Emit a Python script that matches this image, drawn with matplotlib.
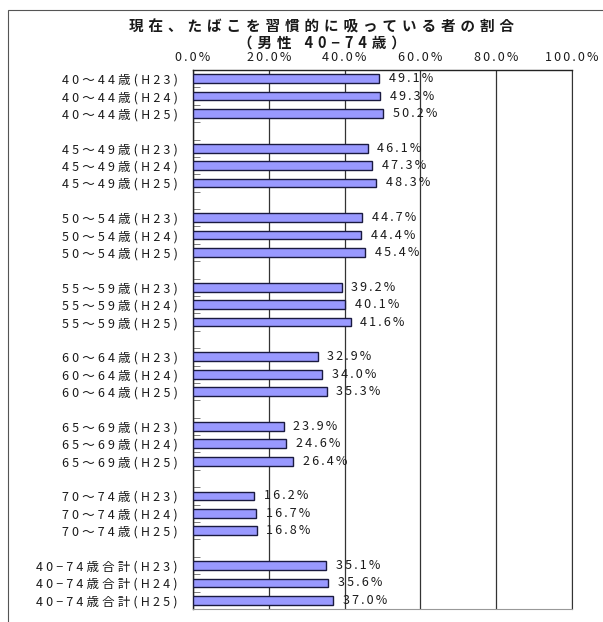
import numpy as np
import matplotlib.pyplot as plt
from matplotlib.patches import Rectangle

plt.rcParams['font.family'] = ['Noto Sans CJK JP', 'DejaVu Sans']

# 年齢区分と年度
groups = ['40～44歳', '45～49歳', '50～54歳', '55～59歳',
          '60～64歳', '65～69歳', '70～74歳', '40−74歳合計']
years = ['(H23)', '(H24)', '(H25)']
# 喫煙率(%)
vals = [
    [49.1, 49.3, 50.2],
    [46.1, 47.3, 48.3],
    [44.7, 44.4, 45.4],
    [39.2, 40.1, 41.6],
    [32.9, 34.0, 35.3],
    [23.9, 24.6, 26.4],
    [16.2, 16.7, 16.8],
    [35.1, 35.6, 37.0],
]
xticks = [0, 20, 40, 60, 80, 100]
title1 = '現在、たばこを習慣的に吸っている者の割合'
title2 = '（男性 40−74歳）'


def spaced(s, sep):
    # 字間をあける
    return sep.join(s)


fig = plt.figure(figsize=(6.03, 6.22), dpi=100)
ax = fig.add_axes([0.320, 0.021, 0.6286, 0.8665])

# 外枠
fig.patches.append(Rectangle((8/603, -0.1), 1.2, 1 - 10/622 + 0.1,
                             transform=fig.transFigure, fill=False,
                             edgecolor='#555555', linewidth=0.8))

ypos = []
labels = []
v = []
for i, g in enumerate(groups):
    for j, y in enumerate(years):
        ypos.append(i*4 + j)
        labels.append(g + y)
        v.append(vals[i][j])
ypos = np.array(ypos)
v = np.array(v)

ax.barh(ypos, v, height=0.5, color='#9999FF', edgecolor='#1a1a40', linewidth=1.0, zorder=3)
for yy, val in zip(ypos, v):
    ax.annotate(spaced(f'{val:.1f}%', '\u2006'), (val, yy), xytext=(7, 0),
                textcoords='offset points', va='center', ha='left',
                fontsize=9, color='#1a1a1a', zorder=4)

nslots = len(groups)*4 - 1
ax.set_ylim(nslots - 0.5, -0.5)
ax.set_xlim(0, 100)
ax.set_yticks(ypos)
ax.set_yticklabels([spaced(s, '\u2005') for s in labels], fontsize=9, color='#1a1a1a')
ax.set_yticks(np.arange(-0.5, nslots, 1.0), minor=True)
ax.tick_params(axis='y', which='major', length=0, pad=11)
ax.tick_params(axis='y', which='minor', length=5, direction='in', width=0.6, color='#666666')

ax.xaxis.tick_top()
ax.set_xticks(xticks)
ax.set_xticklabels([spaced(f'{t:.1f}%', '\u2006') for t in xticks], fontsize=9, color='#1a1a1a')
ax.tick_params(axis='x', length=0, pad=4)

ax.grid(axis='x', color='#333333', linewidth=0.9, zorder=1)
for s in ['left', 'top']:
    ax.spines[s].set_color('#222222')
    ax.spines[s].set_linewidth(1.0)
ax.spines['right'].set_color('#333333')
ax.spines['bottom'].set_color('#999999')

fig.text(322/603, 1 - 27/622, spaced(title1, '\u2004'),
         ha='center', va='center', fontsize=10.5, fontweight='bold', color='#1a1a1a')
fig.text(322/603, 1 - 43/622, spaced(title2, '\u2004'),
         ha='center', va='center', fontsize=10.5, fontweight='bold', color='#1a1a1a')

fig.savefig('out.png', dpi=100)
